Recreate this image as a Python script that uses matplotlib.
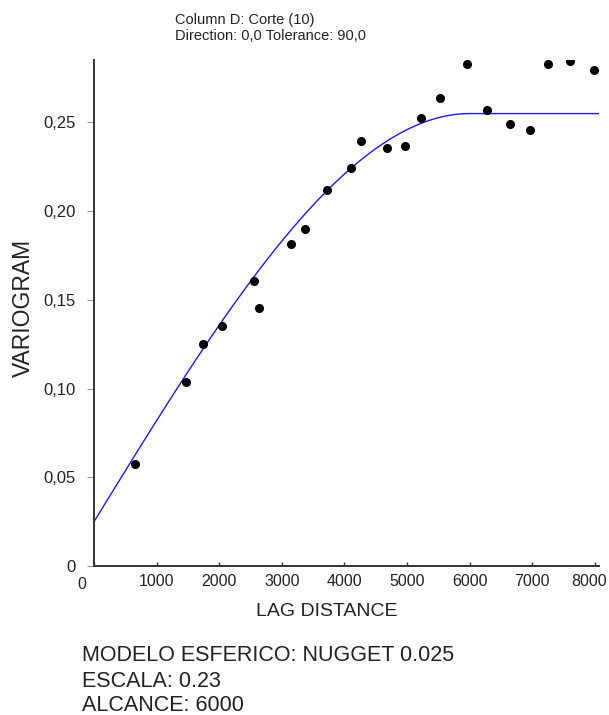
import matplotlib
matplotlib.use("Agg")
import matplotlib.pyplot as plt
import matplotlib.transforms as mtransforms
import numpy as np

plt.rcParams["font.family"] = ["Liberation Sans", "DejaVu Sans"]

lag = [660, 1470, 1741, 2045, 2551, 2636, 3142, 3371, 3722, 4100, 4265,
       4676, 4963, 5229, 5532, 5958, 6278, 6640, 6970, 7257, 7599, 7982]
gamma = [0.0575, 0.1039, 0.1253, 0.1353, 0.1608, 0.1454, 0.1817, 0.1900,
         0.2119, 0.2244, 0.2397, 0.2355, 0.2368, 0.2527, 0.2638, 0.2828,
         0.2572, 0.2490, 0.2458, 0.2828, 0.2847, 0.2796]

# fitted spherical model parameters (from the caption)
nugget = 0.025
scale = 0.23
model_range = 6000

xticks = [0, 1000, 2000, 3000, 4000, 5000, 6000, 7000, 8000]
yticks = [0, 0.05, 0.10, 0.15, 0.20, 0.25]
ytick_labels = ["0", "0,05", "0,10", "0,15", "0,20", "0,25"]

W, H = 609, 715
fig = plt.figure(figsize=(W / 100, H / 100), dpi=100)
ax = fig.add_axes([94 / W, (H - 566) / H, 505 / W, 506 / H])

xmax = 8067
h = np.linspace(0, xmax, 400)
r = np.clip(h / model_range, 0, 1)
model = nugget + scale * (1.5 * r - 0.5 * r ** 3)
ax.plot(h, model, color="#1a1aff", lw=1.0)
ax.plot(lag, gamma, "o", color="black", ms=5.5)

ax.set_xlim(0, xmax)
ax.set_ylim(0, 0.2852)
ax.set_xticks(xticks)
ax.set_xticklabels([str(t) for t in xticks], fontsize=11.5, color="#222222")
ax.set_yticks(yticks)
ax.set_yticklabels(ytick_labels, fontsize=12, color="#222222")

for side in ["top", "right"]:
    ax.spines[side].set_visible(False)
for side in ["left", "bottom"]:
    ax.spines[side].set_color("#333333")
    ax.spines[side].set_linewidth(1.4)

ax.tick_params(axis="x", direction="in", length=3, width=1, color="#333333", pad=6)
ax.tick_params(axis="y", direction="out", length=5, width=0.8, color="#999999", pad=8)

# nudge the first and last x labels like the original
labels = ax.get_xticklabels()
shift_first = mtransforms.ScaledTranslation(-12 / 100, -3 / 100, fig.dpi_scale_trans)
shift_last = mtransforms.ScaledTranslation(-6 / 100, 0, fig.dpi_scale_trans)
labels[0].set_transform(labels[0].get_transform() + shift_first)
labels[-1].set_transform(labels[-1].get_transform() + shift_last)

fig.text(327 / W, 1 - 611 / H, "LAG DISTANCE", fontsize=14, color="#222222",
         ha="center", va="center")
fig.text(23 / W, 1 - 308 / H, "VARIOGRAM", fontsize=16.5, color="#222222",
         ha="center", va="center", rotation=90)

fig.text(175 / W, 1 - 20 / H, "Column D: Corte (10)", fontsize=10.5,
         color="#222222", ha="left", va="center")
fig.text(175 / W, 1 - 36 / H, "Direction: 0,0 Tolerance: 90,0", fontsize=10.5,
         color="#222222", ha="left", va="center")

caption = ["MODELO ESFERICO: NUGGET 0.025", "ESCALA: 0.23", "ALCANCE: 6000"]
for line, yb in zip(caption, [661, 687, 711]):
    fig.text(82 / W, 1 - yb / H, line, fontsize=15.5, color="#222222",
             ha="left", va="baseline")

fig.savefig("out.png", dpi=100)
plt.close(fig)
